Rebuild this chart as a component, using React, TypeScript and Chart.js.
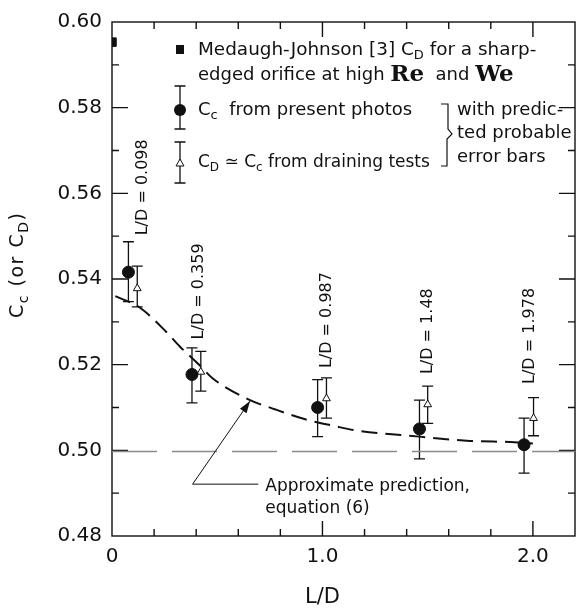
import React, { useEffect, useRef } from "react";
import { Chart, registerables } from "chart.js";

Chart.register(...registerables);

// ---- data ----
const ldValues = [0.098, 0.359, 0.987, 1.48, 1.978];

// C_c from present photos (filled circles)
const ccX = [0.078, 0.38, 0.977, 1.461, 1.958];
const ccY = [0.5416, 0.5177, 0.51, 0.505, 0.5013];
const ccLow = [0.5347, 0.5111, 0.5032, 0.498, 0.4947];
const ccHigh = [0.5487, 0.5239, 0.5165, 0.5117, 0.5075];

// C_D ~ C_c from draining tests (open triangles)
const cdX = [0.12, 0.422, 1.019, 1.5, 2.003];
const cdY = [0.5378, 0.5183, 0.5121, 0.5107, 0.5075];
const cdLow = [0.5335, 0.5138, 0.5075, 0.5063, 0.5034];
const cdHigh = [0.543, 0.5231, 0.5169, 0.515, 0.5123];

// Medaugh-Johnson C_D (filled square)
const medX = [0.0];
const medY = [0.5953];

// Approximate prediction, equation (6) (dashed curve)
const curveX = [0.016, 0.133, 0.257, 0.321, 0.414, 0.476, 0.648, 0.773, 0.914, 1.055, 1.164, 1.461, 1.7, 1.914, 2.0];
const curveY = [0.536, 0.5333, 0.5277, 0.5243, 0.52, 0.5169, 0.5119, 0.5096, 0.5073, 0.5057, 0.5046, 0.5032, 0.5022, 0.5019, 0.5016];

// horizontal reference line
const refX = [0, 2.2];
const refY = [0.4997, 0.4997];

// axes
const xMin = 0;
const xMax = 2.2;
const yMin = 0.48;
const yMax = 0.6;
const xTickValues = [0, 1, 2];
const xTickLabels = ["0", "1.0", "2.0"];
const yTickValues = [0.48, 0.5, 0.52, 0.54, 0.56, 0.58, 0.6];
const yTickLabels = ["0.48", "0.50", "0.52", "0.54", "0.56", "0.58", "0.60"];
const xMinorTickValues = [0.2, 0.4, 0.6, 0.8, 1.2, 1.4, 1.6, 1.8];
const xMajorTickValues = [1, 2];
const yMinorTickValues = [0.49, 0.51, 0.53, 0.55, 0.57, 0.59];
const yMajorTickValues = [0.5, 0.52, 0.54, 0.56, 0.58];

// ---- layout constants (not data) ----
const TARGET = { left: 112, top: 18, right: 581, bottom: 536 };
const labelAnchorX = [0.147, 0.411, 1.023, 1.502, 1.984];
const labelAnchorY = [0.5502, 0.5259, 0.5192, 0.5178, 0.5155];
const arrowTail = { x: 0.383, y: 0.4921 };
const arrowTip = { x: 0.656, y: 0.5115 };
const arrowShelfEndX = 0.695;

const SANS = "'DejaVu Sans', sans-serif";

type Part = { t: string; sub?: boolean; font?: string };

function drawRich(ctx: CanvasRenderingContext2D, parts: Part[], x: number, y: number, size: number) {
  let cx = x;
  for (const p of parts) {
    if (p.sub) {
      ctx.font = `${Math.round(size * 0.72)}px ${SANS}`;
      ctx.fillText(p.t, cx, y + size * 0.3);
    } else {
      ctx.font = p.font || `${size}px ${SANS}`;
      ctx.fillText(p.t, cx, y);
    }
    cx += ctx.measureText(p.t).width;
  }
}

function drawErrBar(ctx: CanvasRenderingContext2D, x: number, y1: number, y2: number, cap: number) {
  ctx.beginPath();
  ctx.moveTo(x, y1);
  ctx.lineTo(x, y2);
  ctx.moveTo(x - cap, y1);
  ctx.lineTo(x + cap, y1);
  ctx.moveTo(x - cap, y2);
  ctx.lineTo(x + cap, y2);
  ctx.stroke();
}

const decorPlugin = {
  id: "decor",
  beforeDatasetsDraw(chart: any) {
    const ctx: CanvasRenderingContext2D = chart.ctx;
    const xs = chart.scales.x;
    const ys = chart.scales.y;
    const a = chart.chartArea;
    ctx.save();
    ctx.strokeStyle = "#111";
    ctx.lineWidth = 1.4;
    ctx.strokeRect(a.left, a.top, a.right - a.left, a.bottom - a.top);
    ctx.beginPath();
    const yT = (v: number, len: number) => {
      const p = ys.getPixelForValue(v);
      ctx.moveTo(a.left, p);
      ctx.lineTo(a.left + len, p);
      ctx.moveTo(a.right, p);
      ctx.lineTo(a.right - len, p);
    };
    yMinorTickValues.forEach((v) => yT(v, 7));
    yMajorTickValues.forEach((v) => yT(v, 16));
    const xT = (v: number, len: number) => {
      const p = xs.getPixelForValue(v);
      ctx.moveTo(p, a.bottom);
      ctx.lineTo(p, a.bottom - len);
      ctx.moveTo(p, a.top);
      ctx.lineTo(p, a.top + len);
    };
    xMinorTickValues.forEach((v) => xT(v, 7));
    xMajorTickValues.forEach((v) => xT(v, 15));
    ctx.stroke();

    ctx.lineWidth = 1.3;
    ccX.forEach((x, i) => drawErrBar(ctx, xs.getPixelForValue(x), ys.getPixelForValue(ccLow[i]), ys.getPixelForValue(ccHigh[i]), 5.5));
    cdX.forEach((x, i) => drawErrBar(ctx, xs.getPixelForValue(x), ys.getPixelForValue(cdLow[i]), ys.getPixelForValue(cdHigh[i]), 5.5));
    ctx.restore();
  },
  afterDraw(chart: any) {
    const ctx: CanvasRenderingContext2D = chart.ctx;
    const xs = chart.scales.x;
    const ys = chart.scales.y;
    ctx.save();
    ctx.fillStyle = "#111";
    ctx.strokeStyle = "#111";
    ctx.textBaseline = "middle";
    ctx.textAlign = "left";

    // rotated L/D labels
    ldValues.forEach((v, i) => {
      ctx.save();
      ctx.translate(xs.getPixelForValue(labelAnchorX[i]), ys.getPixelForValue(labelAnchorY[i]));
      ctx.rotate(-Math.PI / 2);
      ctx.font = `16px ${SANS}`;
      ctx.fillText(`L/D = ${v}`, 0, 0);
      ctx.restore();
    });

    // arrow + annotation
    const tx = xs.getPixelForValue(arrowTail.x);
    const ty = ys.getPixelForValue(arrowTail.y);
    const hx = xs.getPixelForValue(arrowTip.x);
    const hy = ys.getPixelForValue(arrowTip.y);
    const ex = xs.getPixelForValue(arrowShelfEndX);
    ctx.lineWidth = 1;
    ctx.beginPath();
    ctx.moveTo(ex, ty);
    ctx.lineTo(tx, ty);
    ctx.lineTo(hx, hy);
    ctx.stroke();
    const ang = Math.atan2(hy - ty, hx - tx);
    ctx.beginPath();
    ctx.moveTo(hx, hy);
    ctx.lineTo(hx - 12 * Math.cos(ang) + 4 * Math.sin(ang), hy - 12 * Math.sin(ang) - 4 * Math.cos(ang));
    ctx.lineTo(hx - 12 * Math.cos(ang) - 4 * Math.sin(ang), hy - 12 * Math.sin(ang) + 4 * Math.cos(ang));
    ctx.closePath();
    ctx.fill();
    ctx.font = `17px ${SANS}`;
    ctx.fillText("Approximate prediction,", ex + 7, ty + 2);
    ctx.fillText("equation (6)", ex + 7, ty + 24);

    // y title
    ctx.save();
    ctx.translate(18.5, 318);
    ctx.rotate(-Math.PI / 2);
    (ctx as any).letterSpacing = "1.5px";
    drawRich(ctx, [{ t: "C" }, { t: "c", sub: true }, { t: " (or C" }, { t: "D", sub: true }, { t: ")" }], 0, 0, 19);
    ctx.restore();

    // x title
    ctx.font = `21px ${SANS}`;
    ctx.textAlign = "center";
    ctx.fillText("L/D", xs.getPixelForValue(1), 598);
    ctx.textAlign = "left";

    // legend
    const L = 198;
    ctx.fillRect(176, 45, 8, 9);
    drawRich(ctx, [{ t: "Medaugh-Johnson [3] C" }, { t: "D", sub: true }, { t: " for a sharp-" }], L, 50, 18.4);
    drawRich(
      ctx,
      [
        { t: "edged orifice at high " },
        { t: "Re", font: `bold 23px 'DejaVu Serif', serif` },
        { t: "  and " },
        { t: "We", font: `bold 23px 'DejaVu Serif', serif` },
      ],
      L,
      75,
      18
    );
    ctx.lineWidth = 1.3;
    drawErrBar(ctx, 180, 86, 129, 5.5);
    ctx.beginPath();
    ctx.arc(180, 110, 6, 0, Math.PI * 2);
    ctx.fill();
    drawRich(ctx, [{ t: "C" }, { t: "c", sub: true }, { t: "  from present photos" }], L, 110, 18);
    drawErrBar(ctx, 180, 142, 183, 5.5);
    ctx.beginPath();
    ctx.moveTo(180, 159);
    ctx.lineTo(184, 166);
    ctx.lineTo(176, 166);
    ctx.closePath();
    ctx.fillStyle = "#fff";
    ctx.fill();
    ctx.lineWidth = 1;
    ctx.stroke();
    ctx.fillStyle = "#111";
    drawRich(ctx, [{ t: "C" }, { t: "D", sub: true }, { t: " \u2243 C" }, { t: "c", sub: true }, { t: " from draining tests" }], L, 163, 17);
    // brace
    ctx.lineWidth = 1.2;
    ctx.beginPath();
    ctx.moveTo(441, 104);
    ctx.lineTo(448, 104);
    ctx.lineTo(448, 129);
    ctx.lineTo(452, 134);
    ctx.lineTo(447, 139);
    ctx.lineTo(447, 166);
    ctx.lineTo(441, 166);
    ctx.stroke();
    ctx.font = `18px ${SANS}`;
    ctx.fillText("with predic-", 457, 110);
    ctx.fillText("ted probable", 457, 133);
    ctx.fillText("error bars", 457, 157);

    ctx.restore();
  },
};

export default function App() {
  const ref = useRef<HTMLCanvasElement | null>(null);
  useEffect(() => {
    if (!ref.current) return;
    const pts = (xs: number[], ys: number[]) => xs.map((x, i) => ({ x, y: ys[i] }));
    const padding = { left: 0, top: 18, right: 1, bottom: 0 };
    const chart = new Chart(ref.current, {
      type: "scatter",
      data: {
        datasets: [
          {
            label: "Medaugh-Johnson",
            data: pts(medX, medY),
            pointStyle: "rect",
            pointRadius: 6,
            backgroundColor: "#111",
            borderColor: "#111",
            order: 1,
          },
          {
            label: "Cc",
            data: pts(ccX, ccY),
            pointStyle: "circle",
            pointRadius: 6,
            backgroundColor: "#111",
            borderColor: "#111",
            order: 1,
          },
          {
            label: "Cd",
            data: pts(cdX, cdY),
            pointStyle: "triangle",
            pointRadius: 4.5,
            backgroundColor: "#fff",
            borderColor: "#111",
            borderWidth: 1,
            order: 1,
          },
          {
            label: "prediction",
            data: pts(curveX, curveY),
            showLine: true,
            pointRadius: 0,
            borderColor: "#111",
            borderWidth: 2,
            borderDash: [16, 8],
            cubicInterpolationMode: "monotone",
            order: 2,
          },
          {
            label: "ref",
            data: pts(refX, refY),
            showLine: true,
            pointRadius: 0,
            borderColor: "#8a8a8a",
            borderWidth: 1.5,
            borderDash: [45, 15],
            order: 3,
          },
        ],
      },
      options: {
        animation: false,
        responsive: false,
        devicePixelRatio: 1,
        layout: { padding },
        plugins: { legend: { display: false }, tooltip: { enabled: false } },
        scales: {
          x: {
            type: "linear",
            min: xMin,
            max: xMax,
            grid: { display: false, drawTicks: false },
            border: { display: false },
            afterFit: (s: any) => {
              s.height = 74;
            },
            afterBuildTicks: (s: any) => {
              s.ticks = xTickValues.map((v) => ({ value: v }));
            },
            ticks: {
              padding: 9,
              maxRotation: 0,
              color: "#111",
              font: { family: "DejaVu Sans", size: 20 },
              callback: (v: any) => xTickLabels[xTickValues.indexOf(Number(v))] ?? "",
            },
          },
          y: {
            type: "linear",
            min: yMin,
            max: yMax,
            grid: { display: false, drawTicks: false },
            border: { display: false },
            afterFit: (s: any) => {
              s.width = 112;
            },
            afterBuildTicks: (s: any) => {
              s.ticks = yTickValues.map((v) => ({ value: v }));
            },
            ticks: {
              padding: 10,
              color: "#111",
              font: { family: "DejaVu Sans", size: 20 },
              callback: (v: any) => {
                const i = yTickValues.findIndex((t) => Math.abs(t - Number(v)) < 1e-9);
                return i >= 0 ? yTickLabels[i] : "";
              },
            },
          },
        },
      } as any,
      plugins: [decorPlugin],
    });
    for (let k = 0; k < 3; k++) {
      const ca = chart.chartArea;
      const dl = TARGET.left - ca.left;
      const dt = TARGET.top - ca.top;
      const dr = ca.right - TARGET.right;
      const db = ca.bottom - TARGET.bottom;
      if (Math.abs(dl) + Math.abs(dt) + Math.abs(dr) + Math.abs(db) < 0.5) break;
      padding.left += dl;
      padding.top += dt;
      padding.right += dr;
      padding.bottom += db;
      (chart.options as any).layout.padding = { ...padding };
      chart.update();
    }
    return () => chart.destroy();
  }, []);
  return (
    <div style={{ position: "absolute", left: 0, top: 0, width: 582, height: 610, background: "#fff" }}>
      <canvas ref={ref} width={582} height={610} style={{ display: "block" }} />
    </div>
  );
}
